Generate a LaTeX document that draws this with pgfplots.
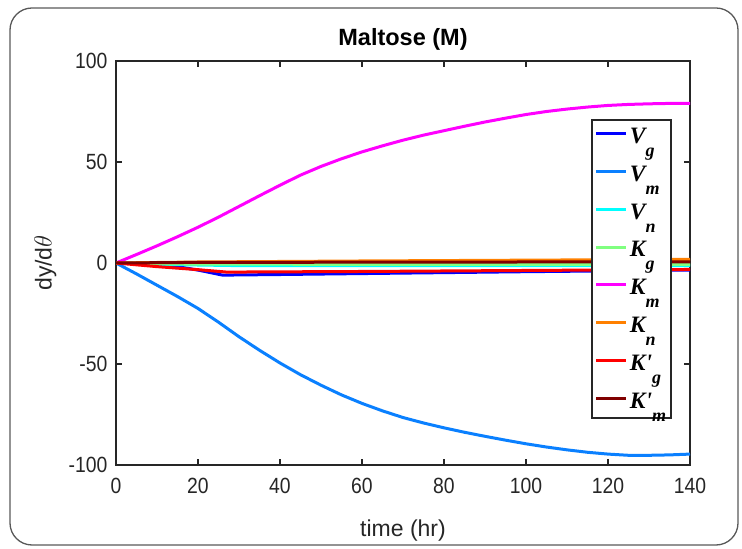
\documentclass[border=0pt]{standalone}
\usepackage{pgfplots}
\pgfplotsset{compat=1.18}
\usepackage{fontspec}
\setmainfont{Liberation Sans}
\newfontfamily\tickfont{Liberation Sans}[FakeStretch=0.88]
\newfontfamily\legfont{Liberation Serif}
\definecolor{axgray}{RGB}{38,38,38}
\definecolor{cVg}{RGB}{0,0,255}
\definecolor{cVm}{RGB}{10,128,255}
\definecolor{cVn}{RGB}{0,255,255}
\definecolor{cKg}{RGB}{128,255,128}
\definecolor{cKm}{RGB}{255,0,255}
\definecolor{cKn}{RGB}{255,128,0}
\definecolor{cKpg}{RGB}{255,0,0}
\definecolor{cKpm}{RGB}{128,0,0}
\newcommand{\legent}[2]{{\legfont\bfseries\itshape\fontsize{23.5}{23.5}\selectfont #1\raisebox{-0.55em}{\fontsize{18}{18}\selectfont #2}}}
\begin{document}
\begin{tikzpicture}
\useasboundingbox (0,0) rectangle (742pt,549pt);
\draw[line width=1.3pt, gray!70!black, rounded corners=22pt] (10pt,4pt) rectangle (738pt,541pt);
\begin{axis}[
  at={(116pt,84pt)}, anchor=south west,
  scale only axis, width=574pt, height=404pt,
  xmin=0, xmax=140, ymin=-100, ymax=100,
  xtick={0,20,...,140}, ytick={-100,-50,0,50,100},
  axis line style={axgray, line width=1.8pt},
  tick style={axgray, line width=1.8pt},
  tick align=inside, major tick length=6pt,
  /pgf/number format/assume math mode=true,
  tick label style={font=\tickfont\fontsize{22}{22}\selectfont, text=axgray},
  xticklabel style={yshift=-10pt},
  yticklabel style={xshift=-5pt},
  title={\bfseries\fontsize{23.5}{24}\selectfont Maltose (M)},
  title style={at={(axis description cs:0.5,1)}, anchor=base, yshift=9pt},
  xlabel={\fontsize{23}{24}\selectfont time (hr)},
  xlabel style={at={(axis description cs:0.5,-0.176)}, anchor=base, text=axgray},
  ylabel={\fontsize{23}{24}\selectfont dy/d$\theta$},
  ylabel style={at={(axis description cs:-0.123,0.5)}, anchor=center, text=axgray},
  every axis plot/.append style={line width=3pt},
  legend style={at={(axis description cs:0.9686,0.8564)}, anchor=north east,
    draw=axgray, line width=1.8pt, fill=white, row sep=17pt,
    inner xsep=3pt, inner ysep=6pt, cells={anchor=west}},
  legend image code/.code={\draw[#1, line width=3pt] (0pt,3pt) -- (30pt,3pt);},
  clip=true,
]
\addplot[cVg] coordinates {(0,0) (5,-0.3) (10,-0.8) (15,-1.8) (20,-3.5) (26,-6) (40,-5.7) (70,-5) (100,-4.3) (140,-3.5)};
\addlegendentry{\legent{V}{g}}
\addplot[cVm] coordinates {(0,0) (5,-5.4) (10,-11) (15,-16.6) (20,-22.5) (25,-29.3) (30,-36.5) (35,-43.2) (40,-49.5) (45,-55.3) (50,-60.5) (55,-65.3) (60,-69.5) (65,-73.2) (70,-76.5) (75,-79.2) (80,-81.6) (85,-83.8) (90,-85.8) (95,-87.7) (100,-89.5) (105,-91.1) (110,-92.5) (115,-93.7) (120,-94.6) (125,-95.2) (130,-95.2) (135,-95) (140,-94.6)};
\addlegendentry{\legent{V}{m}}
\addplot[cVn] coordinates {(0,0) (10,-0.6) (20,-1.0) (30,-1.3) (140,-1.3)};
\addlegendentry{\legent{V}{n}}
\addplot[cKg] coordinates {(0,0) (20,-0.6) (140,-0.7)};
\addlegendentry{\legent{K}{g}}
\addplot[cKm] coordinates {(0,0) (5,4.2) (10,8.5) (15,13) (20,17.7) (25,22.7) (30,28) (35,33.3) (40,38.5) (45,43.5) (50,47.8) (55,51.6) (60,55) (65,58) (70,60.8) (75,63.3) (80,65.5) (85,67.7) (90,69.8) (95,71.7) (100,73.5) (105,75) (110,76.2) (115,77.2) (120,78) (125,78.5) (130,78.8) (135,79) (140,79)};
\addlegendentry{\legent{K}{m}}
\addplot[cKn] coordinates {(0,0) (20,0.5) (60,1.0) (140,1.8)};
\addlegendentry{\legent{K}{n}}
\addplot[cKpg] coordinates {(0,0) (10,-1.8) (20,-3.3) (27,-4.5) (60,-4.2) (100,-3.7) (140,-3.2)};
\addlegendentry{\legent{K'}{g}}
\addplot[cKpm] coordinates {(0,0) (20,0.3) (140,0.6)};
\addlegendentry{\legent{K'}{m}}
\end{axis}
\end{tikzpicture}
\end{document}
